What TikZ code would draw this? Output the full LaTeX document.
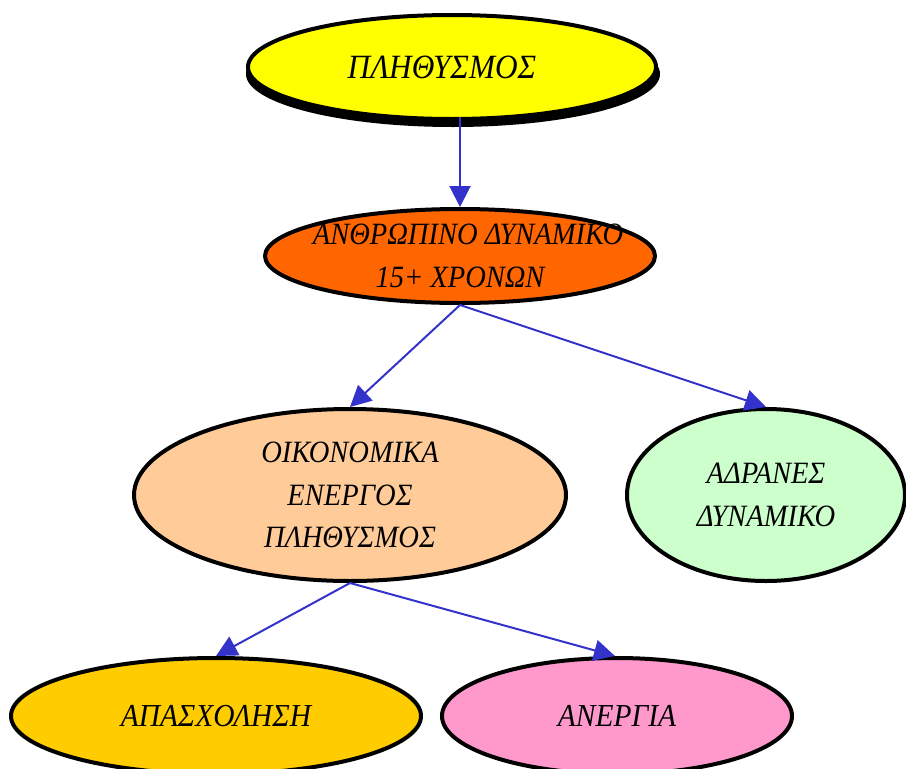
\documentclass[tikz,border=0pt]{standalone}
\usepackage{fontspec}
\setmainfont{Liberation Serif}
\newfontfamily\lblfont{Liberation Serif}[FakeStretch=0.92]
\usetikzlibrary{shapes.geometric,arrows.meta}
\definecolor{arrowblue}{HTML}{3333CC}
\definecolor{cyellow}{HTML}{FFFF00}
\definecolor{corange}{HTML}{FF6600}
\definecolor{cpeach}{HTML}{FFCC99}
\definecolor{cmint}{HTML}{CCFFCC}
\definecolor{cgold}{HTML}{FFCC00}
\definecolor{cpink}{HTML}{FF99CC}
\tikzset{
  blob/.style={ellipse, draw=black, line width=4pt, inner xsep=-60pt, inner ysep=-20pt, align=center,
    font=\lblfont\fontsize{31}{42.5}\selectfont\itshape},
  conn/.style={draw=arrowblue, line width=2pt, -{Triangle[length=21pt,width=21pt]}},
}
\begin{document}
\begin{tikzpicture}[x=1pt,y=-1pt]
\useasboundingbox (0,0) rectangle (906,769);
% shadow of top ellipse
\fill[black] (453,74) ellipse [x radius=207, y radius=53];
\node[blob, fill=cyellow, minimum width=408pt, minimum height=104pt,
  font=\lblfont\fontsize{34}{42}\selectfont\itshape] (pop) at (452,67) {\hspace*{-20pt}ΠΛΗΘΥΣΜΟΣ};
\node[blob, fill=corange, minimum width=390pt, minimum height=94pt] (human) at (460,256) {\hspace*{16pt}ΑΝΘΡΩΠΙΝΟ ΔΥΝΑΜΙΚΟ\\15+ ΧΡΟΝΩΝ};
\node[blob, fill=cpeach, minimum width=432pt, minimum height=172pt] (active) at (350,495) {ΟΙΚΟΝΟΜΙΚΑ\\ΕΝΕΡΓΟΣ\\ΠΛΗΘΥΣΜΟΣ};
\node[blob, fill=cmint, minimum width=278pt, minimum height=172pt] (inactive) at (766,495) {ΑΔΡΑΝΕΣ\\ΔΥΝΑΜΙΚΟ};
\node[blob, fill=cgold, minimum width=410pt, minimum height=116pt,
  font=\lblfont\fontsize{32}{42}\selectfont\itshape] (employ) at (216,716) {ΑΠΑΣΧΟΛΗΣΗ};
\node[blob, fill=cpink, minimum width=350pt, minimum height=116pt,
  font=\lblfont\fontsize{32}{42}\selectfont\itshape] (unemploy) at (617,716) {ΑΝΕΡΓΙΑ};
\draw[conn] ([yshift=4pt]pop.south -| human.north) -- (human.north);
\draw[conn] (human.south) -- (active.north);
\draw[conn] (human.south) -- (inactive.north);
\draw[conn] (active.south) -- (employ.north);
\draw[conn] (active.south) -- ([xshift=-2pt]unemploy.north);
\end{tikzpicture}
\end{document}
